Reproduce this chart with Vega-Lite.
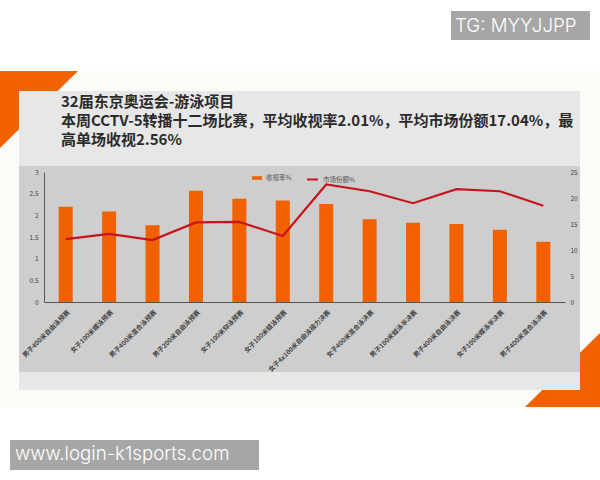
{
  "$schema": "https://vega.github.io/schema/vega-lite/v6.json",
  "width": 521,
  "height": 130,
  "autosize": "none",
  "padding": {"left": 44, "top": 172, "right": 35, "bottom": 178},
  "background": "#ffffff",
  "config": {"view": {"stroke": null}, "font": "Noto Sans CJK SC"},
  "datasets": {
    "ratings": [
      {"match": "男子400米自由泳预赛", "rating": 2.2, "share": 12.1},
      {"match": "女子100米蝶泳预赛", "rating": 2.09, "share": 13.1},
      {"match": "男子400米混合泳预赛", "rating": 1.77, "share": 11.9},
      {"match": "男子200米自由泳预赛", "rating": 2.57, "share": 15.3},
      {"match": "女子100米仰泳预赛", "rating": 2.38, "share": 15.4},
      {"match": "女子100米蛙泳预赛", "rating": 2.34, "share": 12.7},
      {"match": "女子4x100米自由泳接力决赛", "rating": 2.26, "share": 22.6},
      {"match": "女子400米混合泳决赛", "rating": 1.91, "share": 21.3},
      {"match": "男子100米蛙泳半决赛", "rating": 1.83, "share": 19.0},
      {"match": "男子400米自由泳决赛", "rating": 1.8, "share": 21.7},
      {"match": "女子100米蝶泳半决赛", "rating": 1.67, "share": 21.3},
      {"match": "男子400米混合泳决赛", "rating": 1.39, "share": 18.5}
    ]
  },
  "layer": [
    {
      "encoding": {
        "x": {"field": "x", "type": "quantitative", "axis": null, "scale": {"domain": [44, 565], "nice": false, "zero": false}},
        "y": {"field": "y", "type": "quantitative", "axis": null, "scale": {"domain": [302, 172], "nice": false, "zero": false}},
        "x2": {"field": "x1"},
        "y2": {"field": "y1"}
      },
      "layer": [
        {
          "data": {"values": [{"x": 0, "x1": 600, "y": 71, "y1": 407}]},
          "mark": {"type": "rect", "fill": "#fbfbf7"}
        },
        {
          "data": {"values": [{"x": 0, "y": 71, "y1": 148}, {"x": 78, "y": 71, "y1": 71}]},
          "mark": {"type": "area", "fill": "#f26100"},
          "encoding": {"x2": null}
        },
        {
          "data": {"values": [{"x": 525, "y": 407, "y1": 407}, {"x": 600, "y": 333, "y1": 407}]},
          "mark": {"type": "area", "fill": "#f26100"},
          "encoding": {"x2": null}
        },
        {
          "data": {"values": [{"x": 19, "x1": 580, "y": 91, "y1": 390}]},
          "mark": {"type": "rect", "fill": "#e7e7e7"}
        },
        {
          "data": {"values": [{"x": 19, "x1": 580, "y": 166, "y1": 372}]},
          "mark": {"type": "rect", "fill": "#cecece"}
        },
        {
          "data": {"values": [{"x": 451, "x1": 590, "y": 11, "y1": 40}, {"x": 10, "x1": 259, "y": 440, "y1": 470}]},
          "mark": {"type": "rect", "fill": "#a6a6a6"}
        }
      ]
    },
    {
      "data": {
        "values": [
          {"x": 61, "y": 102, "line": "32届东京奥运会-游泳项目"},
          {"x": 61, "y": 121, "line": "本周CCTV-5转播十二场比赛，平均收视率2.01%，平均市场份额17.04%，最"},
          {"x": 61, "y": 140, "line": "高单场收视2.56%"}
        ]
      },
      "mark": {"type": "text", "align": "left", "baseline": "middle", "font": "Noto Sans CJK SC", "fontWeight": "bold", "fontSize": 15, "color": "#2b2b2b"},
      "encoding": {
        "x": {"field": "x", "type": "quantitative", "axis": null, "scale": {"domain": [44, 565], "nice": false, "zero": false}},
        "y": {"field": "y", "type": "quantitative", "axis": null, "scale": {"domain": [302, 172], "nice": false, "zero": false}},
        "text": {"field": "line"}
      }
    },
    {
      "data": {
        "values": [
          {"x": 455, "y": 26, "label": "TG: MYYJJPP"},
          {"x": 15, "y": 454, "label": "www.login-k1sports.com"}
        ]
      },
      "mark": {"type": "text", "align": "left", "baseline": "middle", "font": "Inter", "fontWeight": 300, "fontSize": 18.7, "color": "#ffffff"},
      "encoding": {
        "x": {"field": "x", "type": "quantitative", "axis": null, "scale": {"domain": [44, 565], "nice": false, "zero": false}},
        "y": {"field": "y", "type": "quantitative", "axis": null, "scale": {"domain": [302, 172], "nice": false, "zero": false}},
        "text": {"field": "label"}
      }
    },
    {
      "data": {"name": "ratings"},
      "mark": {"type": "bar", "size": 14},
      "encoding": {
        "x": {
          "field": "match",
          "type": "nominal",
          "sort": null,
          "title": null,
          "scale": {"type": "band"},
          "axis": {
            "zindex": 1,
            "labelAngle": -45,
            "labelAlign": "right",
            "labelBaseline": "middle",
            "labelFontSize": 6.5,
            "labelFontWeight": "bold",
            "labelColor": "#444444",
            "labelPadding": 9,
            "labelOffset": 3,
            "labelLimit": 200,
            "ticks": false,
            "domainColor": "#555555",
            "grid": false
          }
        },
        "y": {
          "field": "rating",
          "type": "quantitative",
          "title": null,
          "scale": {"domain": [0, 3], "nice": false},
          "axis": {"zindex": 1, "values": [0, 0.5, 1, 1.5, 2, 2.5, 3], "format": "~g", "grid": false, "ticks": false, "domainColor": "#555555", "labelFontSize": 6.5, "labelColor": "#444444", "labelPadding": 6}
        },
        "color": {
          "datum": "收视率%",
          "scale": {"range": ["#f26100"]},
          "legend": {"orient": "none", "legendX": 208, "legendY": 1, "title": null, "labelFontSize": 6.5, "labelColor": "#555555", "symbolType": "M-1,-0.35H1V0.35H-1Z", "symbolSize": 100, "symbolStrokeWidth": 0}
        }
      }
    },
    {
      "data": {"name": "ratings"},
      "mark": {"type": "line", "strokeWidth": 2.2},
      "encoding": {
        "x": {"field": "match", "type": "nominal", "sort": null, "axis": null, "scale": {"type": "band"}},
        "y": {
          "field": "share",
          "type": "quantitative",
          "title": null,
          "scale": {"domain": [0, 25], "nice": false},
          "axis": {"zindex": 1, "orient": "right", "values": [0, 5, 10, 15, 20, 25], "grid": false, "ticks": false, "domain": false, "labelFontSize": 6.5, "labelColor": "#444444", "labelPadding": 5}
        },
        "stroke": {
          "datum": "市场份额%",
          "scale": {"range": ["#c8141c"]},
          "legend": {"orient": "none", "legendX": 262, "legendY": 1, "title": null, "labelFontSize": 6.5, "labelColor": "#555555", "symbolType": "stroke", "symbolSize": 120, "symbolStrokeWidth": 2}
        }
      }
    }
  ],
  "resolve": {"scale": {"x": "independent", "y": "independent"}, "axis": {"x": "independent", "y": "independent"}}
}
